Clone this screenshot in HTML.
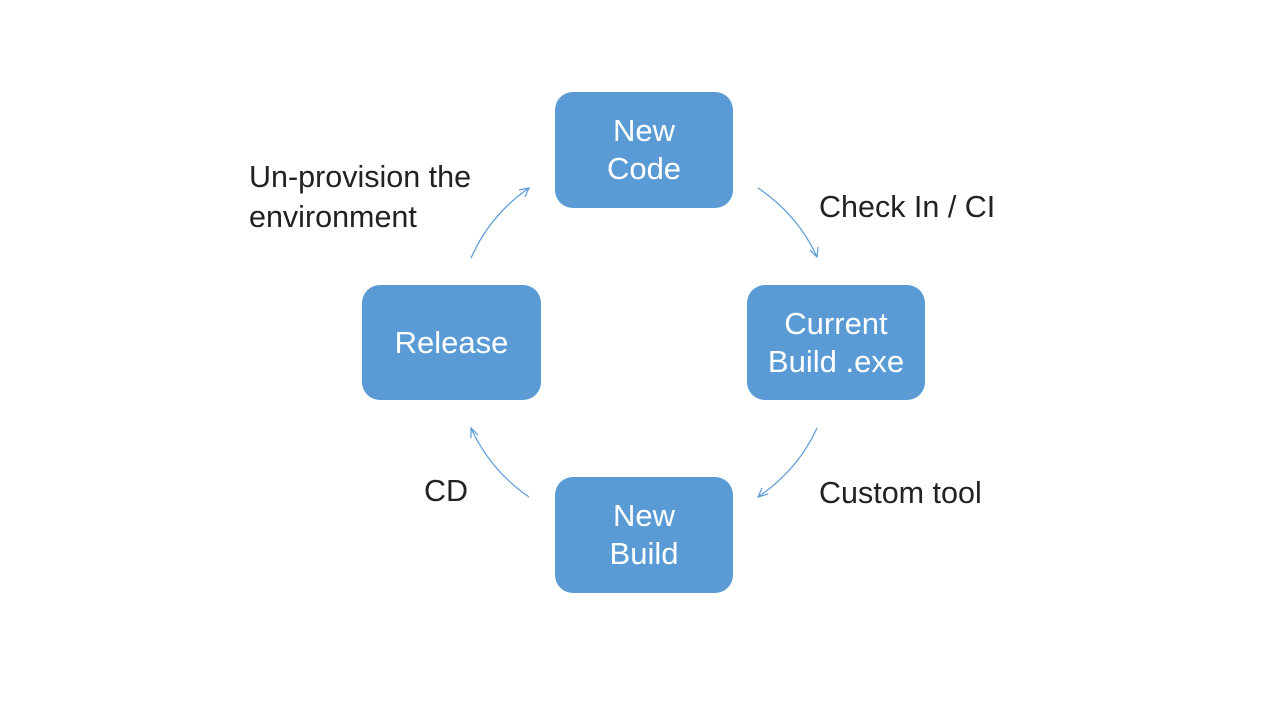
<!DOCTYPE html>
<html><head><style>
body{margin:0;width:1280px;height:720px;background:#fff;position:relative;overflow:hidden;font-family:"Liberation Sans",sans-serif}
.b{position:absolute;background:#5B9BD5;border-radius:18px;color:#fff;font-size:31px;line-height:38px;display:flex;align-items:center;justify-content:center;text-align:center}
.l{position:absolute;color:#222;font-size:30.5px;line-height:40px;white-space:nowrap}
</style></head><body>
<div class="b" style="left:555px;top:92px;width:178px;height:116px">New<br>Code</div>
<div class="b" style="left:747px;top:285px;width:178px;height:115px">Current<br>Build .exe</div>
<div class="b" style="left:555px;top:477px;width:178px;height:116px">New<br>Build</div>
<div class="b" style="left:362px;top:285px;width:179px;height:115px">Release</div>
<div class="l" style="left:249px;top:157px">Un-provision the<br>environment</div>
<div class="l" style="left:819px;top:187px">Check In / CI</div>
<div class="l" style="left:819px;top:473px">Custom tool</div>
<div class="l" style="left:424px;top:471px">CD</div>
<svg width="1280" height="720" style="position:absolute;left:0;top:0" fill="none" stroke="#5B9BD5" stroke-width="1.2">
<path d="M758,188 Q798,215 817,257"/><path d="M810,250 L817,257 L818,247"/>
<path d="M817,428 Q798,470 758,497"/><path d="M768,494 L758,497 L762,488"/>
<path d="M529,497 Q490,470 471,428"/><path d="M471,438 L471,428 L478,435"/>
<path d="M471,258 Q490,215 529,188"/><path d="M519,190 L529,188 L525,197"/>
</svg>
</body></html>
